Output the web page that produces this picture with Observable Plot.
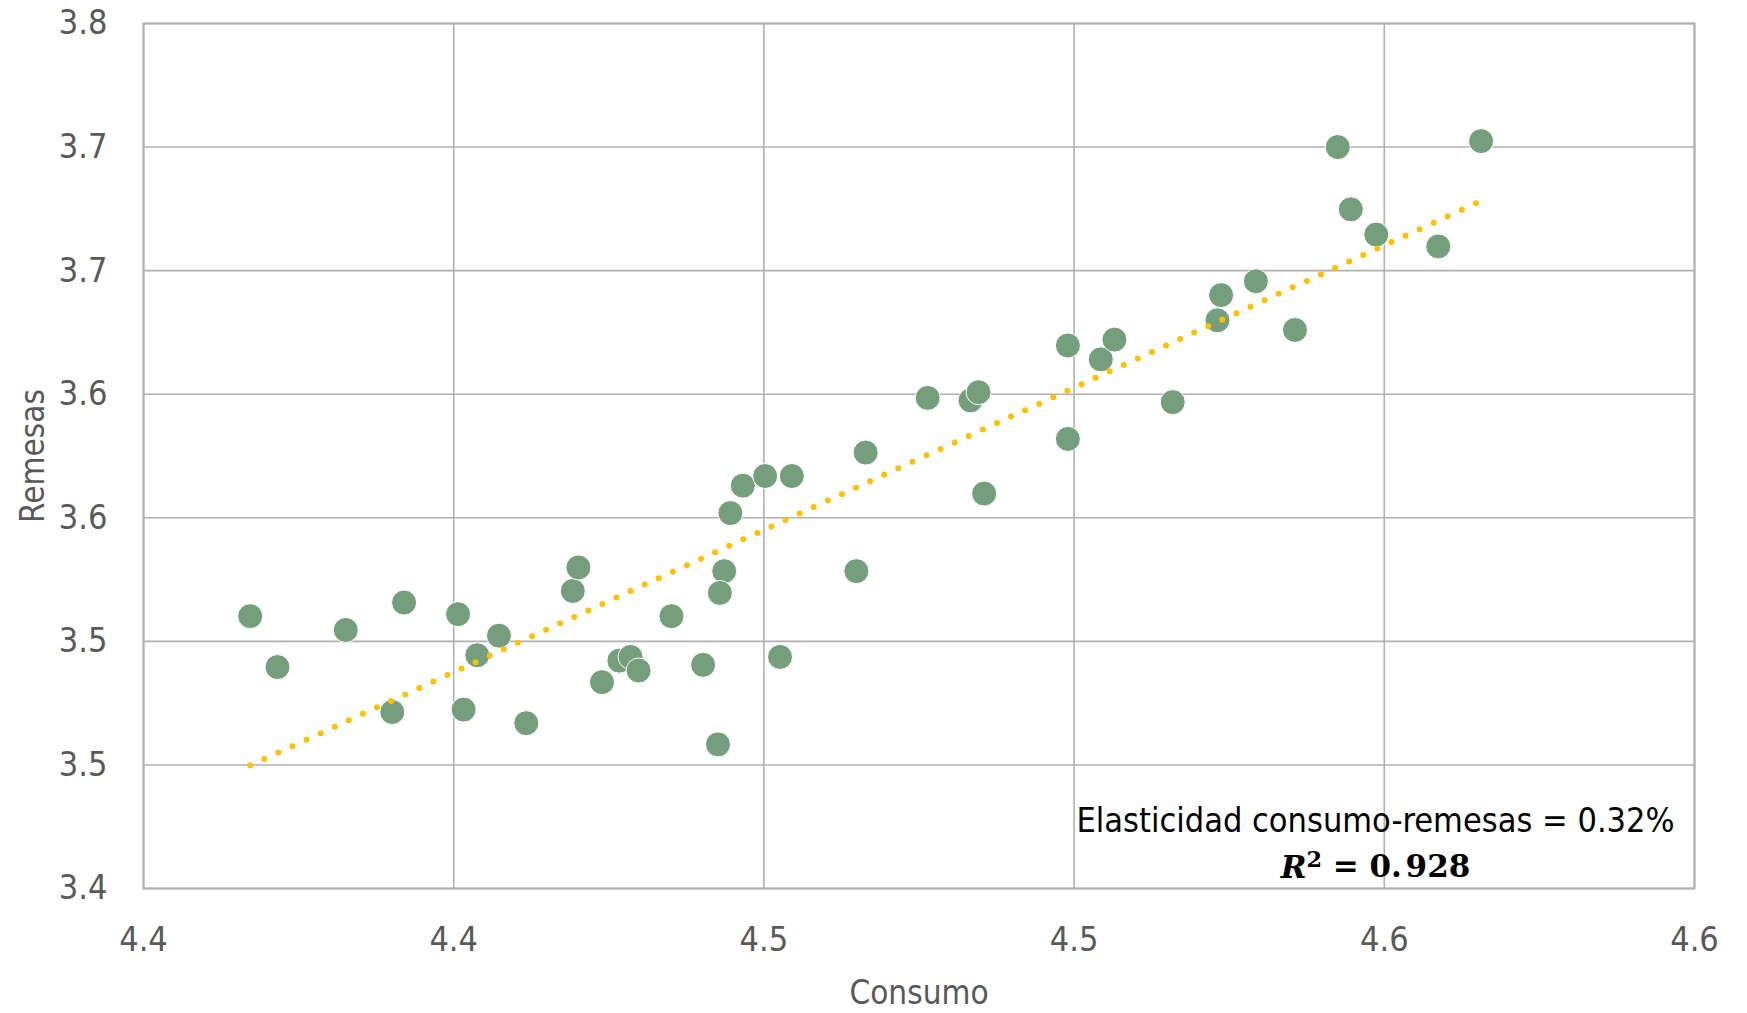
<!DOCTYPE html>
<html>
<head>
<meta charset="utf-8">
<script src="https://cdn.jsdelivr.net/npm/d3@7"></script>
<script src="https://cdn.jsdelivr.net/npm/@observablehq/plot@0.6"></script>
<style>
  html, body { margin: 0; padding: 0; background: #ffffff; }
  #chart svg { display: block; }
</style>
</head>
<body>
<div id="chart"></div>
<script>
// ---- Data ----
const consumo = [4.3672, 4.3716, 4.3826, 4.3920, 4.4007, 4.4073, 4.4038, 4.3901, 4.4016, 4.4117,
                 4.4192, 4.4201, 4.4351, 4.4267, 4.4285, 4.4298, 4.4239, 4.4402, 4.4426, 4.4436,
                 4.4429, 4.4446, 4.4466, 4.4502, 4.4545, 4.4526, 4.4664, 4.4649, 4.4855, 4.4764,
                 4.4833, 4.4846, 4.4990, 4.4990, 4.5043, 4.5065, 4.5159, 4.5231, 4.5237, 4.5293,
                 4.5356, 4.5425, 4.5446, 4.5487, 4.5587, 4.5656];
const remesas = [3.5102, 3.4896, 3.5046, 3.5157, 3.5110, 3.5023, 3.4944, 3.4714, 3.4724, 3.4669,
                 3.5204, 3.5299, 3.5102, 3.4922, 3.4937, 3.4882, 3.4835, 3.4905, 3.4583, 3.5284,
                 3.5196, 3.5519, 3.5630, 3.5669, 3.5669, 3.4937, 3.5764, 3.5284, 3.5598, 3.5985,
                 3.5975, 3.6008, 3.6197, 3.5819, 3.6141, 3.6221, 3.5968, 3.6299, 3.6401, 3.6457,
                 3.6260, 3.7000, 3.6748, 3.6646, 3.6598, 3.7024];

const xTicks = [4.35, 4.40, 4.45, 4.50, 4.55, 4.60];
const xTickLabels = ["4.4", "4.4", "4.5", "4.5", "4.6", "4.6"];
const yTicks = [3.40, 3.45, 3.50, 3.55, 3.60, 3.65, 3.70, 3.75];
const yTickLabels = ["3.4", "3.5", "3.5", "3.6", "3.6", "3.7", "3.7", "3.8"];

const xTitle = ["Consumo"];
const yTitle = ["Remesas"];
const annotationLine1 = ["Elasticidad consumo-remesas = 0.32%"];
const annotationLine2 = ["R2 = 0.928"];

// ---- Build ----
const data = consumo.map((c, i) => ({consumo: c, remesas: remesas[i]}));

const sans = "'Liberation Sans Narrow', 'DejaVu Sans Condensed', 'Liberation Sans', sans-serif";
const gridColor = "#b0b0b0";
const labelColor = "#595959";

const chart = Plot.plot({
  width: 1747,
  height: 1013,
  marginLeft: 143,
  marginRight: 53,
  marginTop: 23,
  marginBottom: 125,
  style: {fontFamily: sans, background: "#ffffff", overflow: "visible"},
  x: {domain: [4.35, 4.60], label: null},
  y: {domain: [3.40, 3.75], label: null},
  marks: [
    Plot.gridX(xTicks, {stroke: gridColor, strokeOpacity: 1, strokeWidth: 1.6}),
    Plot.gridY(yTicks, {stroke: gridColor, strokeOpacity: 1, strokeWidth: 1.6}),
    Plot.frame({stroke: gridColor, strokeWidth: 2}),
    Plot.axisX(xTicks, {
      tickSize: 0, tickPadding: 38, label: null,
      tickFormat: d => xTickLabels[xTicks.indexOf(d)],
      fontSize: 34, fill: labelColor, color: labelColor, fontFamily: sans
    }),
    Plot.axisY(yTicks, {
      tickSize: 0, tickPadding: 36, label: null,
      tickFormat: d => yTickLabels[yTicks.indexOf(d)],
      fontSize: 34, fill: labelColor, color: labelColor, fontFamily: sans
    }),
    Plot.dot(data, {x: "consumo", y: "remesas", r: 12.5, fill: "#749e7c", stroke: "#ffffff", strokeWidth: 1}),
    Plot.linearRegressionY(data, {
      x: "consumo", y: "remesas", ci: 0,
      stroke: "#ffc000", strokeWidth: 6, strokeDasharray: "0 15.5", strokeLinecap: "round"
    }),
    Plot.text(xTitle, {text: d => d, frameAnchor: "bottom", dy: 105, lineAnchor: "middle",
      textAnchor: "middle", fontSize: 33, fill: labelColor, fontFamily: sans}),
    Plot.text(yTitle, {text: d => d, frameAnchor: "left", dx: -110, rotate: -90, lineAnchor: "middle",
      textAnchor: "middle", fontSize: 33, fill: labelColor, fontFamily: sans}),
    Plot.text(annotationLine1, {text: d => d, frameAnchor: "bottom-right", dx: -319, dy: -57,
      textAnchor: "middle", lineAnchor: "bottom", fontSize: 34, fill: "#000000", fontFamily: sans}),
    Plot.text(annotationLine2, {text: d => d, frameAnchor: "bottom-right", dx: -319, dy: -11,
      textAnchor: "middle", lineAnchor: "bottom", fontSize: 31, fill: "#000000",
      fontFamily: "'DejaVu Serif', 'Liberation Serif', serif", fontWeight: "bold"})
  ]
});

document.getElementById("chart").appendChild(chart);

// Style the R² formula: italic R, superscript 2, math-like spacing
d3.select(chart).selectAll("text").each(function () {
  if (this.textContent === annotationLine2[0]) {
    const t = d3.select(this);
    t.text(null);
    t.append("tspan").attr("font-style", "italic").text("R");
    t.append("tspan").attr("font-size", "0.72em").attr("dy", "-0.45em").text("2");
    t.append("tspan").attr("dy", "0.32em").text(" = 0.");
    t.append("tspan").attr("dx", "0.12em").text("928");
  }
});
</script>
</body>
</html>
